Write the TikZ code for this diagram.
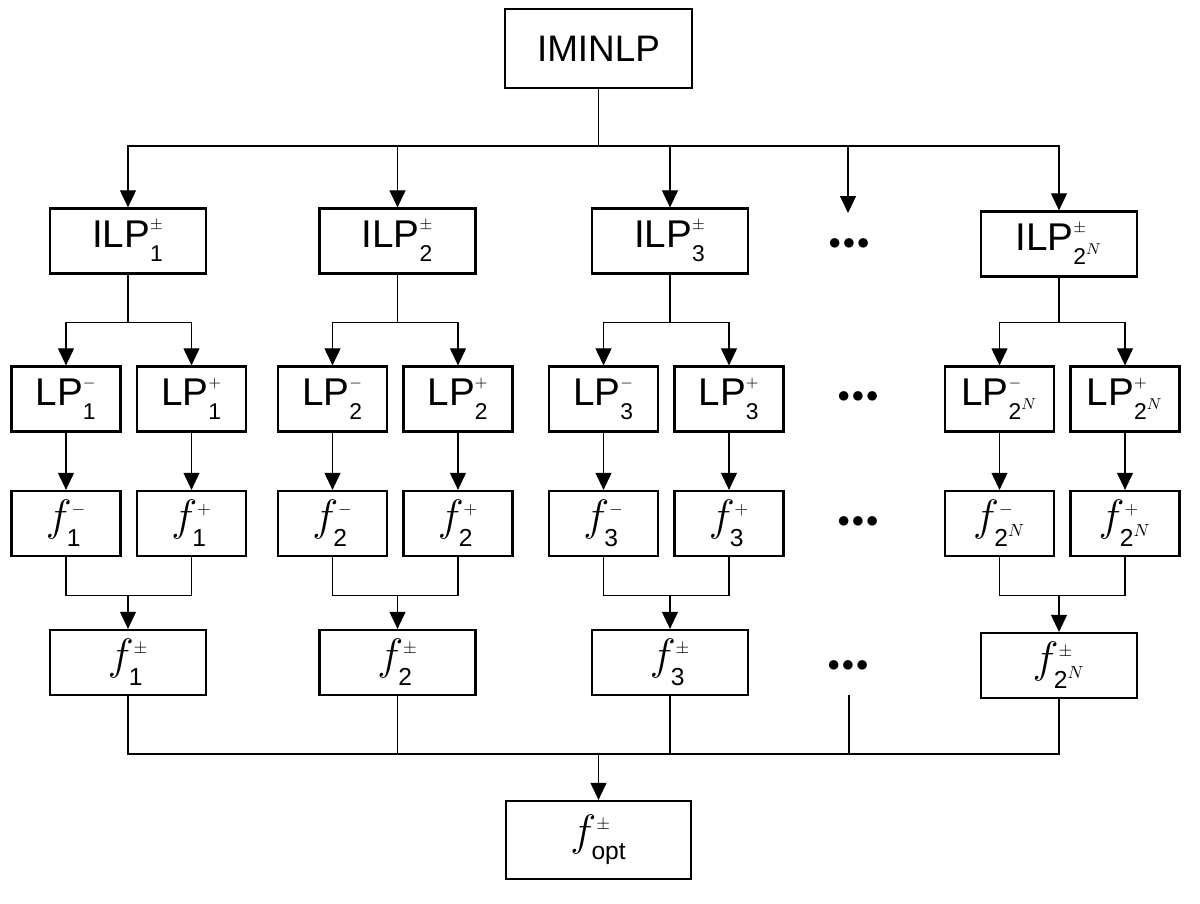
\RequirePackage{fix-cm}
\documentclass[tikz,border=0pt]{standalone}
\usepackage{amsmath}
\usepackage{fontspec}
\setmainfont{Liberation Sans}
\usepackage{tikz}
\usetikzlibrary{arrows.meta}

\DeclareMathSizes{22}{22}{13}{9}
\DeclareMathSizes{25}{25}{14}{10}
\newcommand{\lab}[3]{$#1^{\scriptscriptstyle #2}_{\raisebox{-3pt}{$\scriptstyle #3$}}$}
\newcommand{\ddd}{$\bullet\mkern-2.5mu\bullet\mkern-2.5mu\bullet$}

\begin{document}
\begin{tikzpicture}[x=0.02cm,y=-0.02cm,
	box/.style={draw,line width=1.3pt,inner sep=0pt,minimum height=1.3cm},
	bigbox/.style={box,minimum width=3.12cm},
	smallbox/.style={box,minimum width=2.18cm},
	lpfont/.style={font=\fontsize{22}{26}\selectfont},
	ffont/.style={font=\fontsize{25}{29}\selectfont},
	link/.style={line width=0.6pt},
	arr/.style={link,-{Triangle[length=3.4mm,width=3.2mm]}},
	dots/.style={inner sep=0pt,font=\fontsize{14}{14}\selectfont}]
\useasboundingbox (0,0) rectangle (1200,903);

\node[box,minimum width=3.74cm,minimum height=1.58cm,font=\fontsize{21}{25}\selectfont] (iminlp) at (598.5,48.5) {IMINLP};
\coordinate (bus1) at (598.5,146);
\coordinate (bus2) at (598.5,754);
\draw[link] (iminlp) -- (bus1);

\foreach \i/\x/\xm/\xp/\dy/\s in {1/128/66/191.5/0/{\text{1}},2/397.5/332.5/458/0/{\text{2}},3/670/603.5/729/0/{\text{3}},N/1059/999.5/1125/3/{\text{2}^{N}}}
{
	\node[bigbox,lpfont] (ilp\i) at (\x,241+\dy) {\lab{\text{ILP}}{\pm}{\s}};
	\draw[arr] (bus1) -| (ilp\i);

	\node[smallbox,lpfont] (lpm\i) at (\xm,399) {\lab{\text{LP}}{-}{\s}};
	\node[smallbox,lpfont] (lpp\i) at (\xp,399) {\lab{\text{LP}}{+}{\s}};
	\draw[arr] (ilp\i.south) -- ++(0,48-\dy) -| (lpm\i);
	\draw[arr] (ilp\i.south) -- ++(0,48-\dy) -| (lpp\i);

	\node[smallbox,ffont] (fm\i) at (\xm,523.5) {\lab{f}{-}{\s}};
	\node[smallbox,ffont] (fp\i) at (\xp,523.5) {\lab{f}{+}{\s}};
	\draw[arr] (lpm\i) -- (fm\i);
	\draw[arr] (lpp\i) -- (fp\i);

	\node[bigbox,ffont] (fpm\i) at (\x,662.5+\dy) {\lab{f}{\pm}{\s}};
	\draw[arr] (fm\i.south) -- ++(0,38) coordinate (j\i) -| (fpm\i);
	\draw[link] (fp\i.south) |- (j\i);
	\draw[link] (fpm\i.south) |- (bus2);
}

\node[dots] (dots1) at (849,244) {\ddd};
\coordinate (dotsin) at (848,213);
\draw[arr] (bus1) -| (dotsin);
\node[dots] (dots2) at (858,397) {\ddd};
\node[dots] (dots3) at (858,522) {\ddd};
\node[dots] (dots4) at (848,666) {\ddd};
\coordinate (dotsout) at (849,695);
\draw[link] (dotsout) |- (bus2);

\node[box,minimum width=3.7cm,minimum height=1.56cm,ffont] (fopt) at (598.5,840) {$f^{\scriptscriptstyle\pm}_{\raisebox{-2pt}{$\scriptstyle\text{opt}$}}$};
\draw[arr] (bus2) -- (fopt);

\end{tikzpicture}
\end{document}
